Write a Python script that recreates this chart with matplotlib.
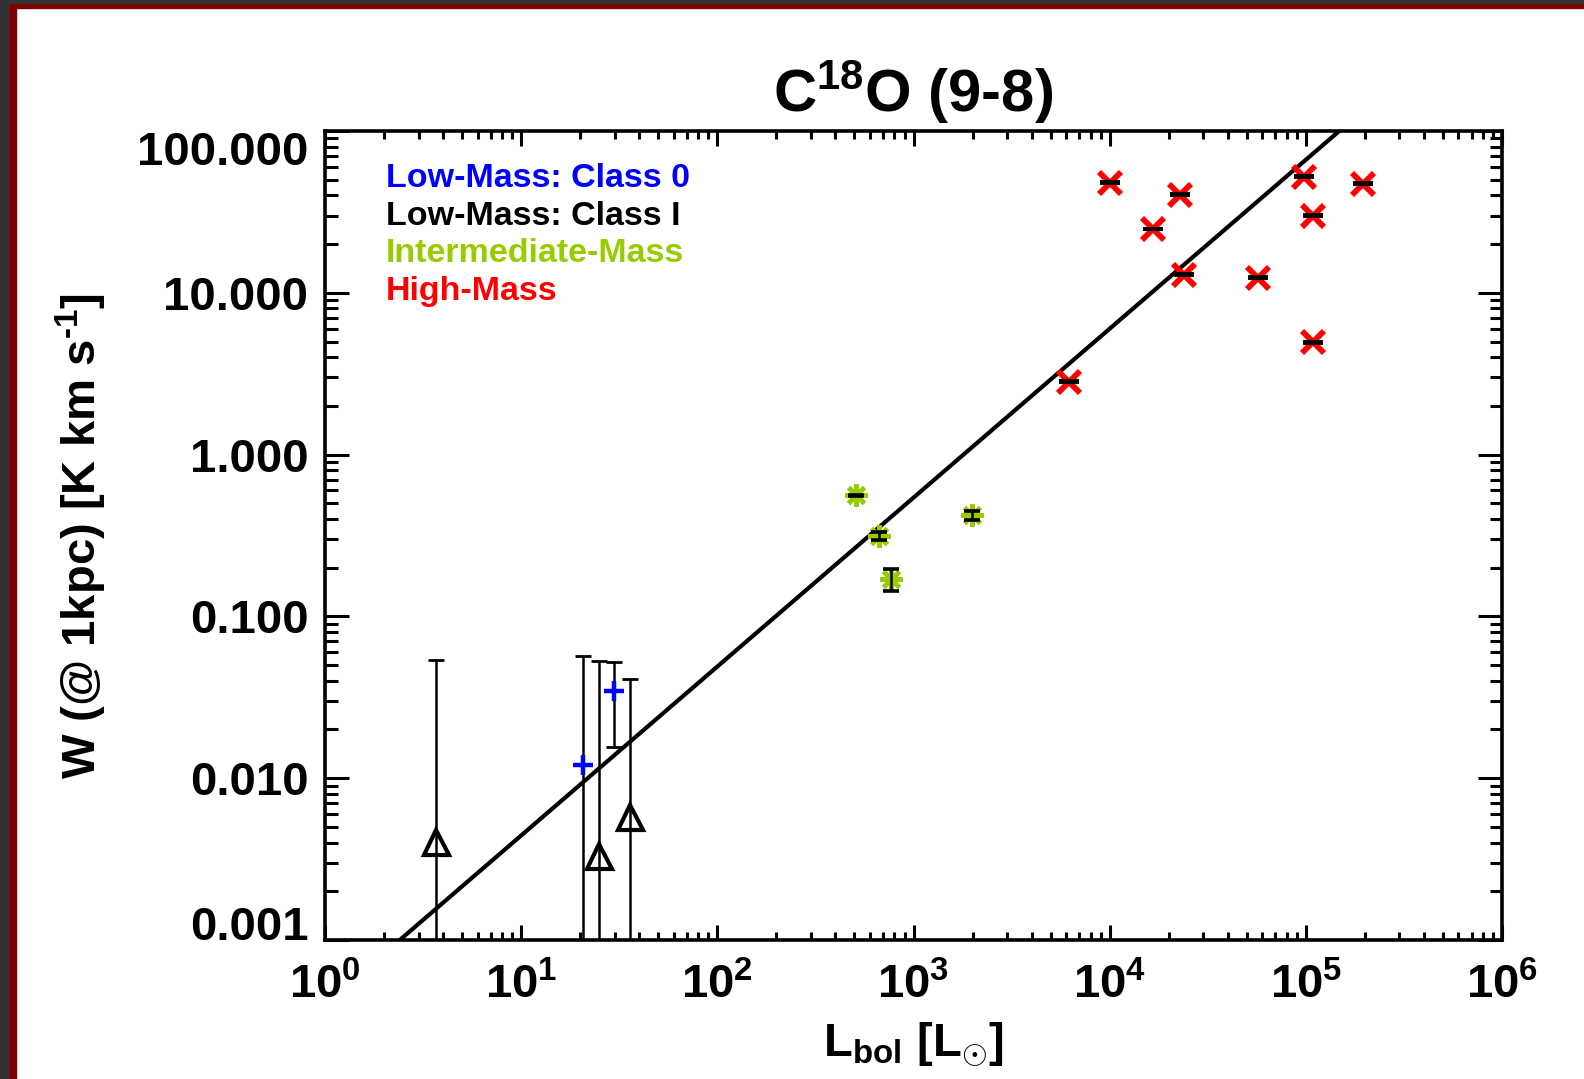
import numpy as np
import matplotlib
matplotlib.use("Agg")
import matplotlib.pyplot as plt
from matplotlib.patches import Rectangle

plt.rcParams['font.family'] = ['Liberation Sans', 'DejaVu Sans']
plt.rcParams['font.weight'] = 'bold'
plt.rcParams['mathtext.fontset'] = 'custom'
plt.rcParams['mathtext.rm'] = 'Liberation Sans:bold'
plt.rcParams['mathtext.bf'] = 'Liberation Sans:bold'
plt.rcParams['mathtext.it'] = 'Liberation Sans:bold'

# ---- data ----
# Low-mass Class 0 (detections)
c0_L = [20.6, 29.7]
c0_W = [0.0121, 0.0345]
c0_lo = [0.0001, 0.0157]
c0_hi = [0.057, 0.052]

# Low-mass Class I (upper limits, triangles)
c1_L = [3.69, 24.9, 35.9]
c1_W = [0.00404, 0.0033, 0.00579]
c1_lo = [0.0001, 0.0001, 0.0001]
c1_hi = [0.054, 0.053, 0.041]

# Intermediate mass
im_L = [511, 664, 765, 1976]
im_W = [0.562, 0.316, 0.170, 0.422]
im_err = [0.004, 0.018, 0.026, 0.025]

# High mass
hm_L = [1.0e4, 16700, 22700, 23800, 57300, 97800, 108700, 108700, 196700, 6240]
hm_W = [48.0, 24.8, 40.4, 12.96, 12.4, 52.3, 29.9, 4.94, 47.3, 2.82]
hm_err = [0.3, 0.15, 0.25, 0.08, 0.08, 0.3, 0.18, 0.03, 0.3, 0.02]

# Fit: log W = slope * log L + intercept
fit_slope = 1.044
fit_intercept = -3.398

xticks = [1e0, 1e1, 1e2, 1e3, 1e4, 1e5, 1e6]
xticklabels = [r'10$^{0}$', r'10$^{1}$', r'10$^{2}$', r'10$^{3}$', r'10$^{4}$', r'10$^{5}$', r'10$^{6}$']
yticks = [0.001, 0.01, 0.1, 1, 10, 100]
yticklabels = ['0.001', '0.010', '0.100', '1.000', '10.000', '100.000']

legend_labels = ['Low-Mass: Class 0', 'Low-Mass: Class I', 'Intermediate-Mass', 'High-Mass']
legend_colors = ['#0000ff', '#000000', '#99cc00', '#ff0000']

# ---- figure ----
W, H = 1584, 1079
fig = plt.figure(figsize=(W / 100, H / 100), dpi=100)
fig.patch.set_facecolor('white')

# frame (screenshot border)
fig.add_artist(Rectangle((0, 0), 16 / W, 1, transform=fig.transFigure, color='#7f0000', zorder=0))
fig.add_artist(Rectangle((0, 1 - 8 / H), 1, 8 / H, transform=fig.transFigure, color='#7f0000', zorder=0))
fig.add_artist(Rectangle((0, 0), 8 / W, 1, transform=fig.transFigure, color='#333333', zorder=0))
fig.add_artist(Rectangle((0, 1 - 3 / H), 1, 3 / H, transform=fig.transFigure, color='#333333', zorder=0))

left, right, top, bottom = 325, 1502, 131, 940
ax = fig.add_axes([left / W, 1 - bottom / H, (right - left) / W, (bottom - top) / H])
ax.set_xscale('log')
ax.set_yscale('log')
ax.set_xlim(1, 1e6)
ax.set_ylim(0.001, 100)

# fit line
xf = np.logspace(0, 6, 200)
ax.plot(xf, 10 ** (fit_slope * np.log10(xf) + fit_intercept), color='black', lw=3.0, zorder=2)

# Class I triangles with error bars
c1_L_a = np.array(c1_L); c1_W_a = np.array(c1_W)
ax.errorbar(c1_L_a, c1_W_a, yerr=[c1_W_a - np.array(c1_lo), np.array(c1_hi) - c1_W_a],
            fmt='none', ecolor='black', elinewidth=1.8, capsize=6, capthick=2.0, zorder=3)
ax.plot(c1_L_a, c1_W_a, linestyle='none', marker='^', markersize=18, markerfacecolor='none',
        markeredgecolor='black', markeredgewidth=3.0, zorder=4)

# Class 0
c0_L_a = np.array(c0_L); c0_W_a = np.array(c0_W)
ax.errorbar(c0_L_a, c0_W_a, yerr=[c0_W_a - np.array(c0_lo), np.array(c0_hi) - c0_W_a],
            fmt='none', ecolor='black', elinewidth=1.8, capsize=6, capthick=2.0, zorder=3)
ax.plot(c0_L_a, c0_W_a, linestyle='none', marker='+', markersize=15, markeredgecolor='#0000ff',
        markeredgewidth=3.2, zorder=5)

# Intermediate mass
ax.plot(im_L, im_W, linestyle='none', marker=(8, 2, 0), markersize=16, markeredgecolor='#99cc00',
        markeredgewidth=3.2, zorder=4)
ax.errorbar(im_L, im_W, yerr=im_err, fmt='none', ecolor='black', elinewidth=1.8,
            capsize=5.5, capthick=2.6, zorder=5)

# High mass
ax.plot(hm_L, hm_W, linestyle='none', marker='x', markersize=16, markeredgecolor='#ff0000',
        markeredgewidth=4.2, zorder=4)
ax.errorbar(hm_L, hm_W, yerr=hm_err, fmt='none', ecolor='black', elinewidth=1.8,
            capsize=7.5, capthick=2.8, zorder=5)

# ticks
ax.set_xticks(xticks)
ax.set_xticklabels(xticklabels)
ax.set_yticks(yticks)
ax.set_yticklabels(yticklabels)
ax.tick_params(axis='both', which='both', direction='in', top=True, right=True, width=2.2)
ax.tick_params(axis='x', which='major', length=11, labelsize=34, pad=17)
ax.tick_params(axis='x', which='minor', length=5.5)
ax.tick_params(axis='y', which='major', length=17, labelsize=34, pad=12)
ax.tick_params(axis='y', which='minor', length=9)
for lab in ax.get_xticklabels() + ax.get_yticklabels():
    lab.set_fontweight('bold')
ylabs = ax.get_yticklabels()
ylabs[0].set_va('baseline')
ylabs[-1].set_va('top')
for s in ax.spines.values():
    s.set_linewidth(2.6)

ax.set_xlabel(r'L$_{bol}$ [L$_{\odot}$]', fontsize=34, fontweight='bold', labelpad=8)
ax.set_ylabel('W (@ 1kpc) [K km s$^{\u20101}$]', fontsize=34, fontweight='bold', labelpad=20)
ax.set_title(r'C$^{18}$O (9-8)', fontsize=43, fontweight='bold', pad=14)

# legend texts
for i, (lab, col) in enumerate(zip(legend_labels, legend_colors)):
    ax.text(0.0515, 0.941 - i * 0.0465, lab, color=col, fontsize=24.5, fontweight='bold',
            transform=ax.transAxes, ha='left', va='center')

fig.savefig('out.png', dpi=100)
